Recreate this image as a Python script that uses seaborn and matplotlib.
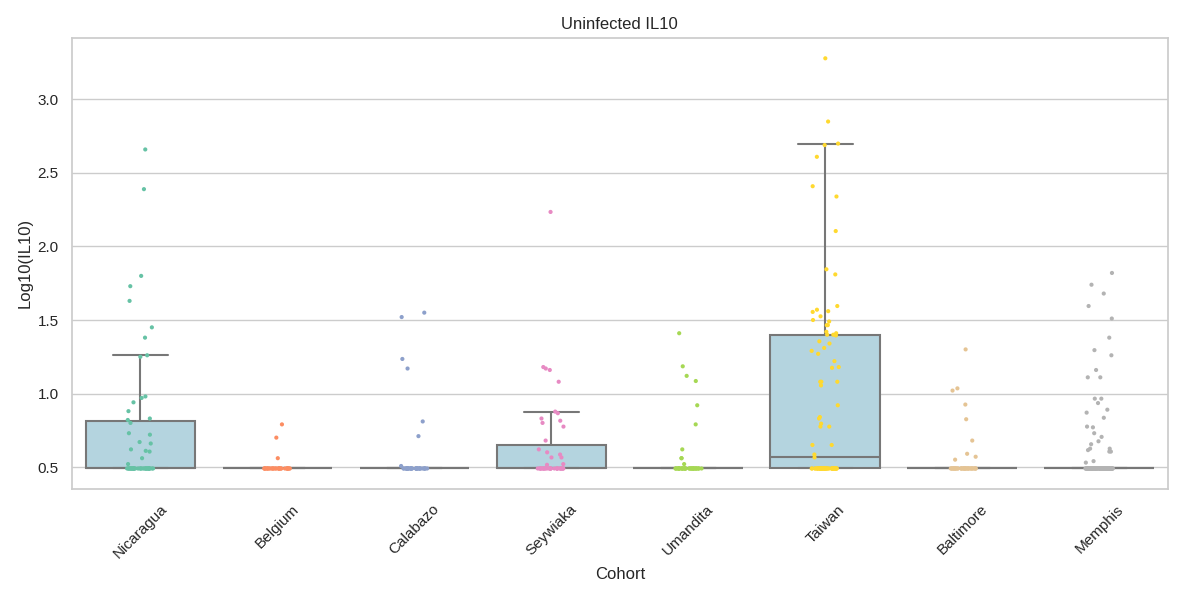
import pandas as pd
import matplotlib
matplotlib.use('Agg')
import matplotlib.pyplot as plt
import seaborn as sns

# 未感染 IL10 の値
cohorts = ['Nicaragua', 'Belgium', 'Calabazo', 'Seywiaka', 'Umandita', 'Taiwan', 'Baltimore', 'Memphis']
FLOOR = 0.49  # 検出下限

nicaragua = [2.66, 2.39, 1.80, 1.73, 1.63, 1.45, 1.38, 1.26, 1.25, 0.98, 0.97, 0.94, 0.88,
             0.83, 0.82, 0.80, 0.73, 0.72, 0.67, 0.66, 0.62, 0.61, 0.605, 0.56, 0.52]
belgium = [0.79, 0.70, 0.56]
calabazo = [1.55, 1.52, 1.235, 1.17, 0.81, 0.71, 0.507]
seywiaka = [2.235, 1.18, 1.17, 1.16, 1.08, 0.877, 0.866, 0.83, 0.815, 0.80, 0.775, 0.68,
            0.62, 0.60, 0.585, 0.565, 0.565, 0.52, 0.515]
umandita = [1.41, 1.185, 1.12, 1.085, 0.92, 0.79, 0.62, 0.56, 0.56, 0.52]
taiwan = [3.28, 2.85, 2.70, 2.69, 2.61, 2.41, 2.34, 2.105, 1.845, 1.81,
          1.595, 1.57, 1.56, 1.555, 1.525, 1.50, 1.49, 1.465, 1.465,
          1.42, 1.41, 1.40, 1.40, 1.395, 1.355, 1.34, 1.31, 1.29, 1.27, 1.22,
          1.18, 1.175, 1.08, 1.08, 1.08, 1.055, 0.92, 0.84, 0.83, 0.795,
          0.775, 0.775, 0.65, 0.65, 0.585, 0.565]
baltimore = [1.30, 1.035, 1.02, 0.925, 0.825, 0.68, 0.59, 0.57, 0.55]
memphis = [1.82, 1.74, 1.68, 1.595, 1.51, 1.38, 1.295, 1.26, 1.16, 1.11, 1.11, 0.965, 0.965,
           0.935, 0.89, 0.87, 0.835, 0.775, 0.77, 0.73, 0.705, 0.675, 0.655, 0.625, 0.625,
           0.615, 0.605, 0.605, 0.54, 0.53]
# 検出下限の点の数
floor_counts = [33, 30, 35, 28, 35, 45, 32, 95]

values = [nicaragua, belgium, calabazo, seywiaka, umandita, taiwan, baltimore, memphis]
rows = []
for c, v, n in zip(cohorts, values, floor_counts):
    for x in v + [FLOOR] * n:
        rows.append({'Cohort': c, 'Log10(IL10)': x})
df = pd.DataFrame(rows)

sns.set_theme(style='whitegrid')
plt.rcParams['font.family'] = ['Liberation Sans', 'DejaVu Sans']
fig, ax = plt.subplots(figsize=(12, 6), dpi=100)
sns.boxplot(x='Cohort', y='Log10(IL10)', data=df, order=cohorts, color='lightblue',
            showfliers=False, linecolor='#777777', linewidth=1.5, ax=ax)
sns.stripplot(x='Cohort', y='Log10(IL10)', data=df, order=cohorts, hue='Cohort',
              hue_order=cohorts, palette='Set2', size=3, legend=False, ax=ax)
ax.set_title('Uninfected IL10')
plt.setp(ax.get_xticklabels(), rotation=45)
plt.subplots_adjust(left=0.06, right=0.973, top=0.937, bottom=0.185)
plt.savefig('out.png')
